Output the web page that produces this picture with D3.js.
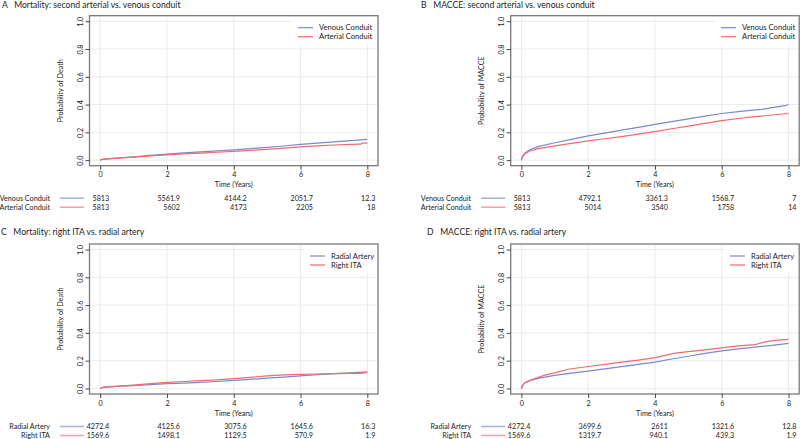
<!DOCTYPE html>
<html>
<head>
<meta charset="utf-8">
<script src="https://cdn.jsdelivr.net/npm/d3@7"></script>
<style>
  body { margin: 0; background: #fff; }
  text { font-family: Lato, "Open Sans", sans-serif; fill: #222; }
</style>
</head>
<body>
<script>
// ---- data ----
const timeTicks = [0, 2, 4, 6, 8];
const probTicks = [0, 0.2, 0.4, 0.6, 0.8, 1.0];

const titles = [
  "A   Mortality: second arterial vs. venous conduit",
  "B   MACCE: second arterial vs. venous conduit",
  "C   Mortality: right ITA vs. radial artery",
  "D   MACCE: right ITA vs. radial artery"
];
const yLabels = ["Probability of Death", "Probability of MACCE", "Probability of Death", "Probability of MACCE"];

const conduitGroups = ["Venous Conduit", "Arterial Conduit"];
const itaGroups = ["Radial Artery", "Right ITA"];

// [years, probability]
const aVenous = [[0, 0], [0.1, 0.008], [0.5, 0.015], [1, 0.024], [1.5, 0.034], [2, 0.044], [2.5, 0.052], [3, 0.06],
  [3.5, 0.067], [4, 0.074], [4.5, 0.083], [5, 0.092], [5.5, 0.102], [6, 0.113], [6.5, 0.122], [7, 0.131], [7.5, 0.141], [8, 0.15]];
const aArterial = [[0, 0], [0.1, 0.008], [0.5, 0.015], [1, 0.022], [1.5, 0.03], [2, 0.038], [2.5, 0.045], [3, 0.051],
  [3.5, 0.057], [4, 0.063], [4.5, 0.07], [5, 0.078], [5.5, 0.087], [6, 0.096], [6.5, 0.103], [7, 0.109], [7.5, 0.113],
  [7.8, 0.115], [7.85, 0.122], [8, 0.123]];

const bVenous = [[0, 0], [0.03, 0.025], [0.1, 0.05], [0.25, 0.075], [0.5, 0.097], [1, 0.125], [1.5, 0.15], [2, 0.175],
  [2.5, 0.195], [3, 0.216], [3.5, 0.236], [4, 0.257], [4.5, 0.277], [5, 0.297], [5.5, 0.317], [6, 0.336], [6.5, 0.35],
  [7, 0.362], [7.2, 0.366], [7.6, 0.382], [7.9, 0.392], [8, 0.401]];
const bArterial = [[0, 0], [0.03, 0.022], [0.1, 0.045], [0.25, 0.066], [0.5, 0.083], [1, 0.103], [1.5, 0.121], [2, 0.139],
  [2.5, 0.154], [3, 0.17], [3.5, 0.188], [4, 0.206], [4.5, 0.226], [5, 0.245], [5.5, 0.265], [6, 0.284], [6.5, 0.3],
  [7, 0.313], [7.5, 0.325], [8, 0.336]];

const cRadial = [[0, 0], [0.1, 0.008], [0.5, 0.014], [1, 0.02], [1.5, 0.027], [2, 0.034], [2.5, 0.039], [3, 0.044],
  [3.5, 0.05], [4, 0.058], [4.5, 0.066], [5, 0.074], [5.5, 0.082], [6, 0.09], [6.5, 0.099], [7, 0.106], [7.5, 0.112], [8, 0.12]];
const cRightIta = [[0, 0], [0.1, 0.01], [0.5, 0.016], [1, 0.024], [1.5, 0.034], [2, 0.043], [2.5, 0.05], [3, 0.056],
  [3.5, 0.061], [4, 0.07], [4.5, 0.08], [5, 0.091], [5.5, 0.098], [6, 0.102], [6.5, 0.104], [7, 0.106], [7.5, 0.108],
  [7.8, 0.109], [8, 0.115]];

const dRadial = [[0, 0], [0.03, 0.02], [0.1, 0.04], [0.25, 0.058], [0.5, 0.072], [1, 0.094], [1.5, 0.11], [2, 0.125],
  [2.5, 0.141], [3, 0.157], [3.5, 0.173], [4, 0.19], [4.5, 0.212], [5, 0.232], [5.5, 0.252], [6, 0.27], [6.5, 0.285],
  [7, 0.298], [7.5, 0.31], [8, 0.325]];
const dRightIta = [[0, 0], [0.03, 0.02], [0.1, 0.04], [0.3, 0.062], [0.7, 0.096], [1, 0.112], [1.4, 0.138], [2, 0.158],
  [2.5, 0.173], [3, 0.19], [3.5, 0.204], [4, 0.222], [4.6, 0.254], [5, 0.265], [5.5, 0.278], [6, 0.292], [6.5, 0.306],
  [7, 0.316], [7.3, 0.335], [7.6, 0.346], [8, 0.353]];

// numbers at risk at each time tick
const aRiskVenous = [5813, 5561.9, 4144.2, 2051.7, 12.3];
const aRiskArterial = [5813, 5602, 4173, 2205, 18];
const bRiskVenous = [5813, 4792.1, 3361.3, 1568.7, 7];
const bRiskArterial = [5813, 5014, 3540, 1758, 14];
const cRiskRadial = [4272.4, 4125.6, 3075.6, 1645.6, 16.3];
const cRiskRightIta = [1569.6, 1498.1, 1129.5, 570.9, 1.9];
const dRiskRadial = [4272.4, 3699.6, 2611, 1321.6, 12.8];
const dRiskRightIta = [1569.6, 1319.7, 940.1, 439.3, 1.9];

// ---- layout ----
const W = 800, H = 439;
const colors = ["#7c88cf", "#f5686f"];
const riskColors = ["#aab2e0", "#f6a2a7"];
const boxW = 288.5, boxH = 150;
const riskOffsets = [9, 13, 13, 12.5, 8];
const fs = "7.2px";

const panels = [
  { left: 89.5, top: 15.7, titleX: 2, titleY: 8, legendX: 298, groups: conduitGroups,
    curves: [aVenous, aArterial], risk: [aRiskVenous, aRiskArterial] },
  { left: 510.7, top: 15.7, titleX: 421, titleY: 8, legendX: 721, groups: conduitGroups,
    curves: [bVenous, bArterial], risk: [bRiskVenous, bRiskArterial] },
  { left: 89.5, top: 244, titleX: 1, titleY: 234.5, legendX: 310, groups: itaGroups,
    curves: [cRadial, cRightIta], risk: [cRiskRadial, cRiskRightIta] },
  { left: 510.7, top: 244, titleX: 427, titleY: 234.5, legendX: 730, groups: itaGroups,
    curves: [dRadial, dRightIta], risk: [dRiskRadial, dRiskRightIta] }
];

const svg = d3.select("body").append("svg").attr("width", W).attr("height", H);

const drawPanel = (p, i) => {
  const g = svg.append("g");
  const x = d3.scaleLinear().domain([-0.32, 8.32]).range([p.left, p.left + boxW]);
  const y = d3.scaleLinear().domain([-0.04, 1.04]).range([p.top + boxH, p.top]);
  const bottom = p.top + boxH;

  g.append("text").attr("x", p.titleX).attr("y", p.titleY)
    .style("font-size", "8.6px").style("white-space", "pre").text(titles[i]);

  // grid
  g.selectAll(".gx").data(timeTicks).join("line")
    .attr("x1", d => x(d)).attr("x2", d => x(d))
    .attr("y1", p.top).attr("y2", bottom)
    .style("stroke", "#ebebeb").style("stroke-width", 1);
  g.selectAll(".gy").data(probTicks).join("line")
    .attr("x1", p.left).attr("x2", p.left + boxW)
    .attr("y1", d => y(d)).attr("y2", d => y(d))
    .style("stroke", "#ebebeb").style("stroke-width", 1);

  // legend background
  const lgTop = p.top;
  g.append("rect")
    .attr("x", p.legendX - 6).attr("y", lgTop)
    .attr("width", p.left + boxW - (p.legendX - 6)).attr("height", 29)
    .attr("fill", "#fff");

  // curves
  const line = d3.line().x(d => x(d[0])).y(d => y(d[1]));
  p.curves.forEach((c, k) => {
    g.append("path").attr("d", line(c))
      .style("fill", "none").style("stroke", colors[k]).style("stroke-width", 1.2);
  });

  // legend
  p.groups.forEach((name, k) => {
    const ly = lgTop + 12 + k * 9;
    g.append("line").attr("x1", p.legendX).attr("x2", p.legendX + 15)
      .attr("y1", ly).attr("y2", ly)
      .style("stroke", colors[k]).style("stroke-width", 1.2);
    g.append("text").attr("x", p.legendX + 21).attr("y", ly + 2.7)
      .style("font-size", "7.6px").text(name);
  });

  // frame
  g.append("rect").attr("x", p.left).attr("y", p.top)
    .attr("width", boxW).attr("height", boxH)
    .style("fill", "none").style("stroke", "#7a7a7a").style("stroke-width", 1.3);

  // x axis
  const xa = g.append("g").attr("transform", `translate(0,${bottom})`)
    .call(d3.axisBottom(x).tickValues(timeTicks).tickFormat(d3.format("d")).tickSize(4).tickPadding(2.6));
  xa.select(".domain").remove();
  xa.selectAll(".tick line").style("stroke", "#444");
  xa.selectAll("text").style("font-size", fs).style("font-family", "Lato, sans-serif").attr("fill", "#222");

  // y axis (rotated labels)
  const ya = g.append("g").attr("transform", `translate(${p.left},0)`)
    .call(d3.axisLeft(y).tickValues(probTicks).tickFormat(d3.format(".1f")).tickSize(4));
  ya.select(".domain").remove();
  ya.selectAll(".tick line").style("stroke", "#444");
  ya.selectAll("text")
    .attr("x", null).attr("dy", null)
    .attr("text-anchor", "middle")
    .attr("transform", "translate(-6.5,0) rotate(-90)")
    .style("font-size", fs).style("font-family", "Lato, sans-serif").attr("fill", "#222");

  g.append("text")
    .attr("transform", `translate(${p.left - 26.5},${(p.top + bottom) / 2}) rotate(-90)`)
    .attr("text-anchor", "middle").style("font-size", fs).text(yLabels[i]);
  g.append("text").attr("x", (p.left + p.left + boxW) / 2).attr("y", bottom + 21.6)
    .attr("text-anchor", "middle").style("font-size", fs).text("Time (Years)");

  // risk table
  p.groups.forEach((name, k) => {
    const ry = bottom + 32.5 + k * 9;
    g.append("text").attr("x", p.left - 39.5).attr("y", ry + 2.6)
      .attr("text-anchor", "end").style("font-size", fs).text(name);
    g.append("line").attr("x1", p.left - 29.5).attr("x2", p.left - 5.5)
      .attr("y1", ry).attr("y2", ry)
      .style("stroke", riskColors[k]).style("stroke-width", 1.6);
    g.selectAll(null).data(p.risk[k]).join("text")
      .attr("x", (d, j) => x(timeTicks[j]) + riskOffsets[j])
      .attr("y", ry + 2.6)
      .attr("text-anchor", "end").style("font-size", fs)
      .text(d => String(d));
  });
};

panels.forEach(drawPanel);
</script>
</body>
</html>
